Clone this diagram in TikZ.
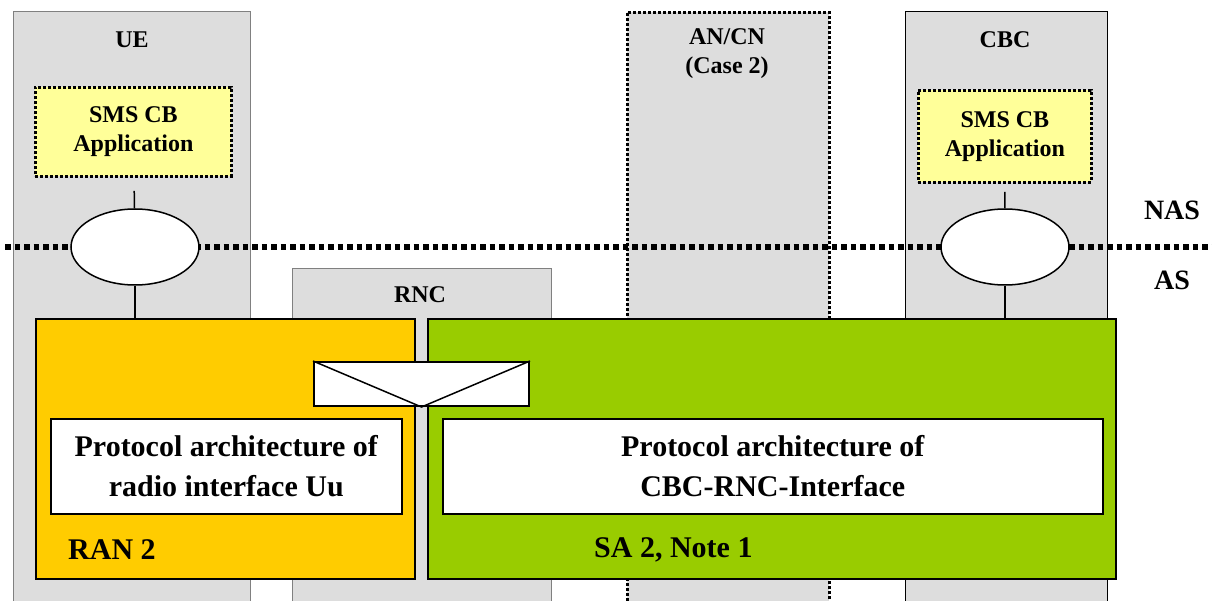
\documentclass[tikz,border=0pt]{standalone}
\usepackage{fontspec}
\setmainfont{Liberation Serif}
\definecolor{colgrey}{HTML}{DDDDDD}
\definecolor{appyellow}{HTML}{FFFF99}
\definecolor{ranorange}{HTML}{FFCC00}
\definecolor{sagreen}{HTML}{99CC00}
\tikzset{
    column/.style={rectangle,fill=colgrey,draw=gray,line width=1.2pt,anchor=north west,inner sep=0pt},
    dotbox/.style={draw=black,line width=2.8pt,dash pattern=on 3pt off 2pt},
    appbox/.style={rectangle,fill=appyellow,dotbox,anchor=north west,inner sep=0pt},
    sap/.style={ellipse,fill=white,draw,line width=1.5pt,minimum width=128pt,minimum height=76pt,inner sep=0pt},
    layer/.style={rectangle,draw,line width=2pt,anchor=north west,inner sep=0pt},
    lbl/.style={font=\bfseries\fontsize{24}{29}\selectfont,align=center,inner sep=0pt},
    big/.style={font=\bfseries\fontsize{30}{40}\selectfont,align=center,inner sep=0pt}
}
\usetikzlibrary{shapes.geometric}
\begin{document}
\begin{tikzpicture}[x=1pt,y=-1pt]
    \useasboundingbox (0,0) rectangle (1212,601);
    % columns
    \begin{scope}[every node/.style={column}]
        \node[minimum width=237pt,minimum height=620pt] (ue) at (13,11) {};
        \node[minimum width=259pt,minimum height=360pt] (rnc) at (292,268) {};
        \node[minimum width=202pt,minimum height=620pt,draw=black,dotbox] (ancn) at (626,11) {};
        \node[minimum width=202pt,minimum height=620pt,draw=black] (cbc) at (905,11) {};
    \end{scope}
    \begin{scope}[every node/.style={lbl}]
        \node (uelbl) at (132,40) {UE};
        \node (rnclbl) at (420,295) {RNC};
        \node (ancnlbl) at (727,54) {AN/CN\\(Case 2)};
        \node (cbclbl) at (1005,40) {CBC};
    \end{scope}
    % NAS / AS border
    \coordinate (sepl) at (5,247);
    \coordinate (sepr) at (1212,247);
    \draw[line width=5.5pt,dash pattern=on 5.5pt off 4pt] (sepl) -- (sepr);
    \node[lbl,font=\bfseries\fontsize{28}{32}\selectfont] (nas) at (1172,210) {NAS};
    \node[lbl,font=\bfseries\fontsize{28}{32}\selectfont] (as) at (1172,280) {AS};
    % applications and access points
    \node[appbox,minimum width=196pt,minimum height=89pt] (smsue) at (34,86) {};
    \node[lbl] at (smsue) {SMS CB\\Application};
    \node[appbox,minimum width=173pt,minimum height=92pt] (smscbc) at (917,89) {};
    \node[lbl] at (smscbc) {SMS CB\\Application};
    \node[sap] (ellue) at (135,247) {};
    \node[sap] (ellcbc) at (1005,247) {};
    % protocol layers
    \node[layer,fill=ranorange,minimum width=379pt,minimum height=260pt] (ran) at (35,318) {};
    \node[layer,fill=sagreen,minimum width=688pt,minimum height=260pt] (sa) at (427,318) {};
    \node[layer,fill=white,line width=1.5pt,minimum width=351pt,minimum height=95pt] (uu) at (50,418) {};
    \node[big] at (uu) {Protocol architecture of\\radio interface Uu};
    \node[layer,fill=white,line width=1.5pt,minimum width=660pt,minimum height=95pt] (iucb) at (442,418) {};
    \node[big] at (iucb) {Protocol architecture of\\CBC-RNC-Interface};
    \node[big,anchor=west] (ranlbl) at (68,550) {RAN 2};
    \node[big,anchor=west] (salbl) at (594,550) {SA 2, Note 1};
    \node[layer,fill=white,minimum width=215pt,minimum height=44pt] (env) at (313,361) {};
    \draw[line width=1.5pt] (env.north west) -- (env.south) -- (env.north east);
    % connectors
    \coordinate (ueran) at (ellue |- ran.north);
    \coordinate (cbcsa) at (ellcbc |- sa.north);
    \begin{scope}[line width=1.5pt]
        \path
            (smsue) edge[shorten <=13pt] (ellue)
            (ellue) edge (ueran)
            (smscbc) edge[shorten <=8pt] (ellcbc)
            (ellcbc) edge (cbcsa);
    \end{scope}
\end{tikzpicture}
\end{document}
